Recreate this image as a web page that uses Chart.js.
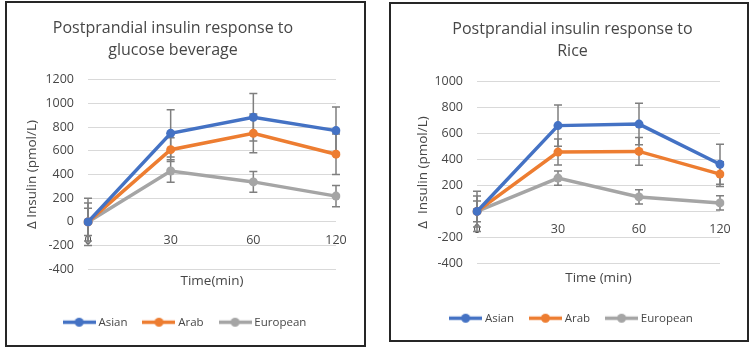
<!DOCTYPE html>
<html>
<head>
<meta charset="utf-8">
<script src="https://cdn.jsdelivr.net/npm/chart.js@4.4.1/dist/chart.umd.min.js"></script>
<style>
  body { margin: 0; background: #fff; }
  .panel { position: absolute; border: 2px solid #262626; background: #fff; }
  #p1 { left: 5px; top: 1px; width: 357px; height: 342px; }
  #p2 { left: 389px; top: 2px; width: 356px; height: 336px; }
  canvas { display: block; }
</style>
</head>
<body>
<div class="panel" id="p1"><canvas id="c1" width="357" height="342"></canvas></div>
<div class="panel" id="p2"><canvas id="c2" width="356" height="336"></canvas></div>
<script>
// time points (min)
const times = ['0', '30', '60', '120'];
const groups = ['Asian', 'Arab', 'European'];
const groupColors = ['#4472C4', '#ED7D31', '#A5A5A5'];

// glucose beverage, insulin change (pmol/L)
const glucoseAsian = [0, 748, 884, 771];
const glucoseArab = [0, 610, 748, 572];
const glucoseEuropean = [0, 430, 338, 218];
const glucoseAsianErr = [200, 200, 200, 200];
const glucoseArabErr = [160, 100, 163, 171];
const glucoseEuropeanErr = [115, 95, 87, 89];
const glucoseTicks = [-400, 1200];

// rice
const riceAsian = [0, 662, 674, 364];
const riceArab = [0, 458, 463, 288];
const riceEuropean = [0, 257, 112, 66];
const riceAsianErr = [155, 160, 160, 155];
const riceArabErr = [120, 100, 107, 95];
const riceEuropeanErr = [80, 55, 55, 55];
const riceTicks = [-400, 1000];

const textColor = '#474747';
const fontFamily = '"Open Sans", "Noto Sans", sans-serif';

// little line + dot for the legend, like Excel does
function legendIcon(color) {
  const c = document.createElement('canvas');
  c.width = 33; c.height = 11;
  const g = c.getContext('2d');
  g.strokeStyle = color; g.lineWidth = 3.5;
  g.beginPath(); g.moveTo(0, 5.5); g.lineTo(33, 5.5); g.stroke();
  g.fillStyle = color;
  g.beginPath(); g.arc(16.5, 5.5, 4.5, 0, Math.PI * 2); g.fill();
  return c;
}

const errorBars = {
  id: 'errorBars',
  beforeDatasetsDraw(chart, args, opts) {
    const {ctx, scales: {y}} = chart;
    ctx.save();
    ctx.strokeStyle = opts.color;
    ctx.lineWidth = opts.width;
    chart.data.datasets.forEach((ds, i) => {
      const meta = chart.getDatasetMeta(i);
      ds.data.forEach((v, j) => {
        const e = opts.errors[i][j];
        const px = meta.data[j].x;
        const top = y.getPixelForValue(v + e);
        const bot = y.getPixelForValue(v - e);
        ctx.beginPath();
        ctx.moveTo(px, top); ctx.lineTo(px, bot);
        ctx.moveTo(px - opts.cap, top); ctx.lineTo(px + opts.cap, top);
        ctx.moveTo(px - opts.cap, bot); ctx.lineTo(px + opts.cap, bot);
        ctx.stroke();
      });
    });
    ctx.restore();
  }
};

const legendShift = {
  id: 'legendShift',
  afterLayout(chart, args, opts) {
    if (opts.dx) {
      chart.legend.left += opts.dx;
      chart.legend.right += opts.dx;
    }
  }
};

function makeChart(id, s) {
  const series = [s.asian, s.arab, s.european];
  return new Chart(document.getElementById(id), {
    type: 'line',
    data: {
      labels: times,
      datasets: series.map((d, i) => ({
        label: groups[i],
        data: d,
        borderColor: groupColors[i],
        backgroundColor: groupColors[i],
        borderWidth: 3.5,
        pointRadius: 4.5,
        pointBorderWidth: 0,
        pointHoverRadius: 4.5,
        tension: 0
      }))
    },
    plugins: [errorBars, legendShift],
    options: {
      responsive: false,
      animation: false,
      layout: { padding: s.padding },
      scales: {
        x: {
          position: { y: 0 },
          grid: { display: false, drawTicks: false },
          border: { display: false },
          ticks: { color: textColor, padding: s.xTickPad, font: { family: fontFamily, size: 12.5 } }
        },
        xTitle: {
          type: 'category',
          position: 'bottom',
          labels: times,
          grid: { display: false, drawTicks: false },
          border: { display: false },
          ticks: { display: false },
          title: {
            display: true,
            text: s.xTitle,
            color: textColor,
            padding: { top: s.xTitlePad[0], bottom: s.xTitlePad[1] },
            font: { family: fontFamily, size: 13.5 }
          }
        },
        y: {
          min: s.range[0],
          max: s.range[1],
          afterFit: sc => { sc.width = s.yWidth; },
          grid: { color: '#D9D9D9', drawTicks: false },
          border: { display: false },
          ticks: {
            stepSize: 200,
            color: textColor,
            padding: 14,
            font: { family: fontFamily, size: 12.5 },
            callback: v => String(v)
          },
          title: {
            display: true,
            text: s.yTitle,
            color: textColor,
            padding: { top: s.yTitlePad, bottom: 0 },
            font: { family: fontFamily, size: 13.5 }
          }
        }
      },
      plugins: {
        title: {
          display: true,
          text: s.title,
          color: textColor,
          padding: { top: s.titlePad[0], bottom: s.titlePad[1] },
          font: { family: fontFamily, size: 16, weight: 'normal', lineHeight: 1.4 }
        },
        legend: {
          position: 'bottom',
          labels: {
            usePointStyle: true,
            pointStyleWidth: 27,
            padding: 18,
            color: textColor,
            font: { family: fontFamily, size: 11.5 },
            generateLabels: chart => chart.data.datasets.map((ds, i) => ({
              text: ds.label,
              pointStyle: legendIcon(ds.borderColor),
              fillStyle: ds.borderColor,
              strokeStyle: ds.borderColor,
              lineWidth: 0,
              fontColor: textColor,
              datasetIndex: i,
              hidden: false
            }))
          }
        },
        tooltip: { enabled: false },
        errorBars: { errors: s.errors, color: '#7F7F7F', width: 1.5, cap: 4 },
        legendShift: { dx: s.legendDx }
      }
    }
  });
}

makeChart('c1', {
  asian: glucoseAsian, arab: glucoseArab, european: glucoseEuropean,
  errors: [glucoseAsianErr, glucoseArabErr, glucoseEuropeanErr],
  range: glucoseTicks,
  title: ['Postprandial insulin response to', 'glucose beverage'],
  titlePad: [14, 18],
  xTitle: 'Time(min)',
  xTitlePad: [4, 9],
  xTickPad: 11,
  yTitle: 'Δ Insulin (pmol/L)',
  yTitlePad: 14,
  yWidth: 78,
  padding: { left: 3, right: 28, top: 0, bottom: 7 },
  legendDx: 13
});

makeChart('c2', {
  asian: riceAsian, arab: riceArab, european: riceEuropean,
  errors: [riceAsianErr, riceArabErr, riceEuropeanErr],
  range: riceTicks,
  title: ['Postprandial insulin response to', 'Rice'],
  titlePad: [14, 19],
  xTitle: 'Time (min)',
  xTitlePad: [7, 8],
  xTickPad: 10,
  yTitle: 'Δ  Insulin (pmol/L)',
  yTitlePad: -10,
  yWidth: 52,
  padding: { left: 34, right: 27, top: 0, bottom: 6 },
  legendDx: 0
});
</script>
</body>
</html>
